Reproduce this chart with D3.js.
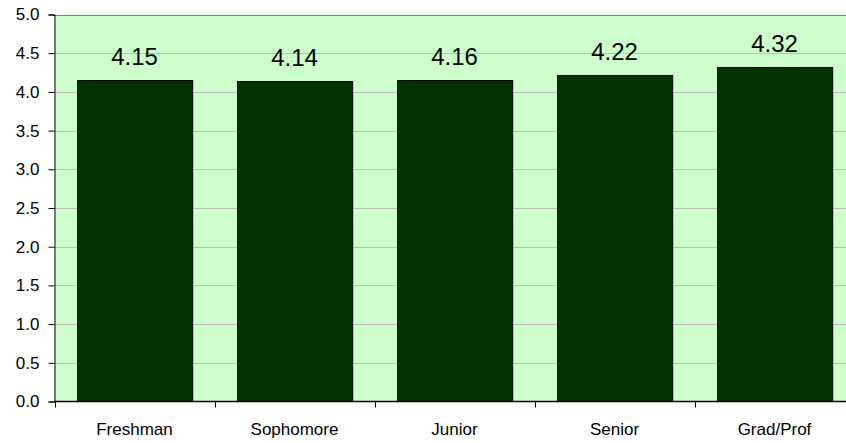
<!DOCTYPE html>
<html>
<head>
<meta charset="utf-8">
<script src="https://cdn.jsdelivr.net/npm/d3@7"></script>
<style>
  body { margin: 0; background: #fff; }
  text { font-family: Arial, "Liberation Sans", sans-serif; fill: #000; }
</style>
</head>
<body>
<div id="chart"></div>
<script>
// Data
var categories = ["Freshman", "Sophomore", "Junior", "Senior", "Grad/Prof"];
var values = [4.15, 4.14, 4.16, 4.22, 4.32];
var yTicks = [0, 0.5, 1, 1.5, 2, 2.5, 3, 3.5, 4, 4.5, 5];

var svgWidth = 846;
var svgHeight = 443;

// plot area runs off the right edge like the original
var margin = { top: 14.5, left: 54.5, bottom: 41.5 };
var plotRight = 854.5;
var plotBottom = svgHeight - margin.bottom;

var svg = d3.select("#chart")
  .append("svg")
  .attr("width", svgWidth)
  .attr("height", svgHeight);

var xScale = d3.scaleBand()
  .domain(categories)
  .range([margin.left, plotRight])
  .paddingInner(0.28)
  .paddingOuter(0.14);

var yScale = d3.scaleLinear()
  .domain([0, 5])
  .range([plotBottom, margin.top]);

// background
svg.append("rect")
  .attr("x", margin.left)
  .attr("y", margin.top)
  .attr("width", plotRight - margin.left)
  .attr("height", plotBottom - margin.top)
  .attr("fill", "#ccffcc");

// gridlines
svg.append("g")
  .selectAll("line")
  .data(yTicks.filter(d => d > 0))
  .enter()
  .append("line")
  .attr("x1", margin.left)
  .attr("x2", plotRight)
  .attr("y1", d => Math.round(yScale(d)) + 0.5)
  .attr("y2", d => Math.round(yScale(d)) + 0.5)
  .attr("stroke", d => d === 5 ? "#808080" : "#c0c0c0")
  .attr("stroke-width", 1);

// bars
svg.append("g")
  .selectAll("rect")
  .data(values)
  .enter()
  .append("rect")
  .attr("x", (d, i) => Math.round(xScale(categories[i])) + 0.5)
  .attr("y", d => Math.round(yScale(d)) + 0.5)
  .attr("width", xScale.bandwidth())
  .attr("height", d => plotBottom - Math.round(yScale(d)) - 0.5)
  .attr("fill", "#003300")
  .attr("stroke", "#000")
  .attr("stroke-width", 1);

// value labels
svg.append("g")
  .selectAll("text")
  .data(values)
  .enter()
  .append("text")
  .attr("x", (d, i) => xScale(categories[i]) + xScale.bandwidth() / 2)
  .attr("y", d => yScale(d) - 15)
  .attr("text-anchor", "middle")
  .style("font-size", "24px")
  .text(d => d.toFixed(2));

// y axis
var leftAxis = d3.axisLeft(yScale)
  .tickValues(yTicks)
  .tickFormat(d3.format(".1f"))
  .tickSize(6)
  .tickPadding(9);

var yAxisG = svg.append("g")
  .attr("transform", `translate(${margin.left}, 0)`)
  .call(leftAxis);
yAxisG.select(".domain").attr("stroke", "#000");
yAxisG.selectAll("text")
  .style("font-size", "17px")
  .attr("font-family", null);

// x axis: ticks at category boundaries
var boundaries = categories.map(c => xScale(c) - xScale.step() * 0.14).concat([plotRight]);
svg.append("line")
  .attr("x1", margin.left)
  .attr("x2", plotRight)
  .attr("y1", plotBottom)
  .attr("y2", plotBottom)
  .attr("stroke", "#000")
  .attr("stroke-width", 1.5);

svg.append("g")
  .selectAll("line")
  .data(boundaries)
  .enter()
  .append("line")
  .attr("x1", d => Math.round(d) + 0.5)
  .attr("x2", d => Math.round(d) + 0.5)
  .attr("y1", plotBottom)
  .attr("y2", plotBottom + 6)
  .attr("stroke", "#000");

svg.append("g")
  .selectAll("text")
  .data(categories)
  .enter()
  .append("text")
  .attr("x", d => xScale(d) + xScale.bandwidth() / 2)
  .attr("y", plotBottom + 33)
  .attr("text-anchor", "middle")
  .style("font-size", "17px")
  .text(d => d);
</script>
</body>
</html>
